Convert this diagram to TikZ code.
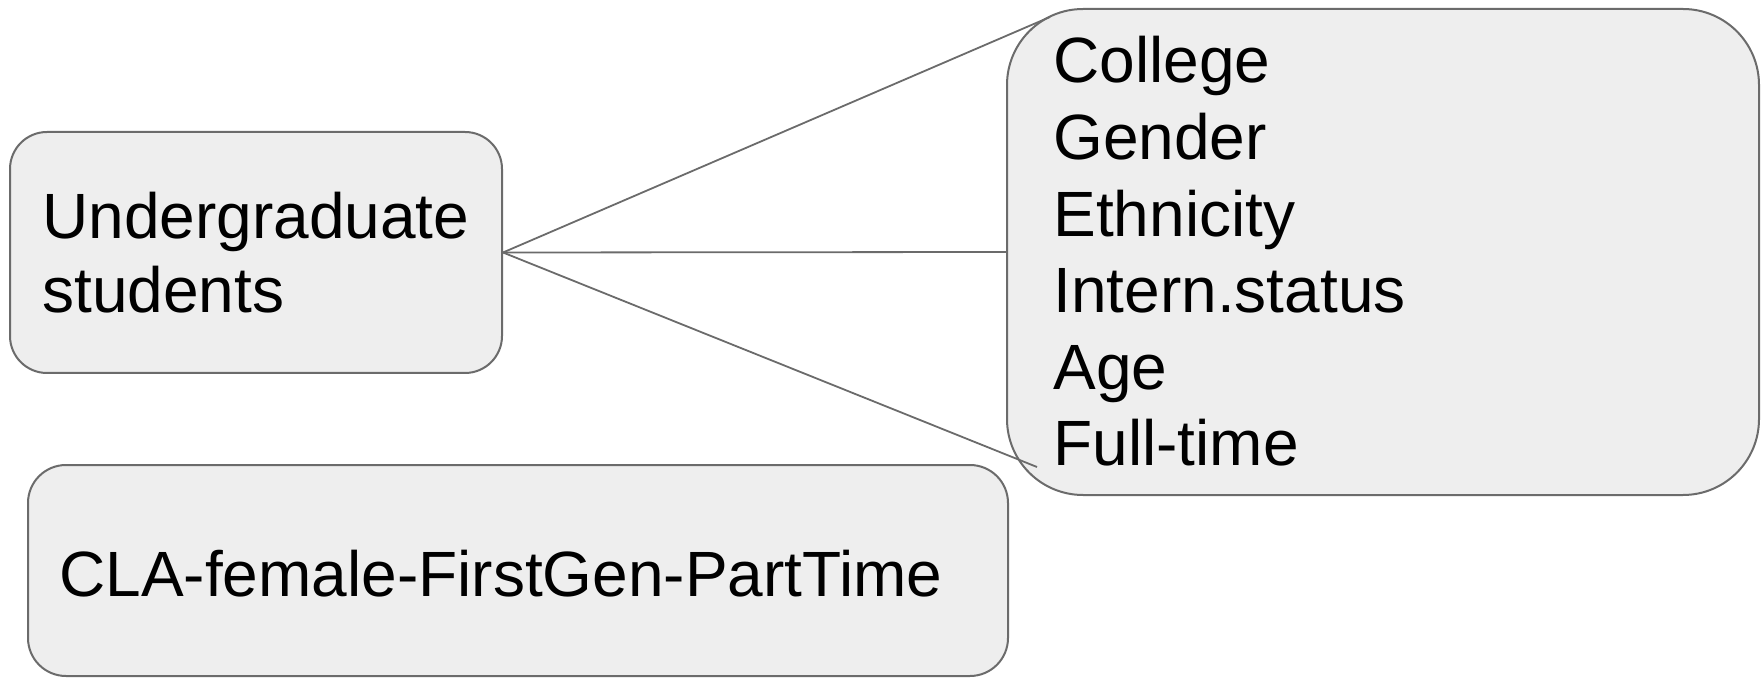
\documentclass[tikz,border=0pt]{standalone}
\usepackage{fontspec}
\setmainfont{Liberation Sans}
\definecolor{boxfill}{HTML}{EEEEEE}
\definecolor{boxline}{HTML}{6B6B6B}
\tikzset{
  box/.style={draw=boxline, fill=boxfill, line width=1pt, inner sep=0pt, rectangle},
  txt/.style={anchor=base west, inner sep=0pt, font=\fontsize{32pt}{38.3pt}\selectfont, text=black},
  link/.style={draw=boxline, line width=0.9pt}
}
\begin{document}
\begin{tikzpicture}[x=0.5pt,y=-0.5pt]
\useasboundingbox (0,0) rectangle (1761,678);
% boxes
\node[box, rounded corners=18.5pt, minimum width=246pt, minimum height=120.5pt] (ug) at (256,252.5) {};
\node[box, rounded corners=38pt, minimum width=376pt, minimum height=243pt] (attr) at (1383,252) {};
\node[box, rounded corners=19pt, minimum width=490pt, minimum height=105.5pt] (combo) at (518,570.5) {};
% texts
\node[txt] (ugtxt) at (42,239) {\vtop{\baselineskip=37pt\hbox{Undergraduate}\hbox{students}}};
\node[txt] (attrtxt) at (1053,83) {\vtop{\baselineskip=38.3pt\hbox{College}\hbox{Gender}\hbox{Ethnicity}\hbox{Intern.status}\hbox{Age}\hbox{Full-time}}};
\node[txt] (combotxt) at (59,596) {CLA-female-FirstGen-PartTime};
% connectors
\coordinate (ttop) at (1050,17);
\coordinate (tbot) at (1037,467);
\draw[link] (ug.east) -- (ttop);
\draw[link] (ug.east) -- (attr.west);
\draw[link] (ug.east) -- (tbot);
\end{tikzpicture}
\end{document}
